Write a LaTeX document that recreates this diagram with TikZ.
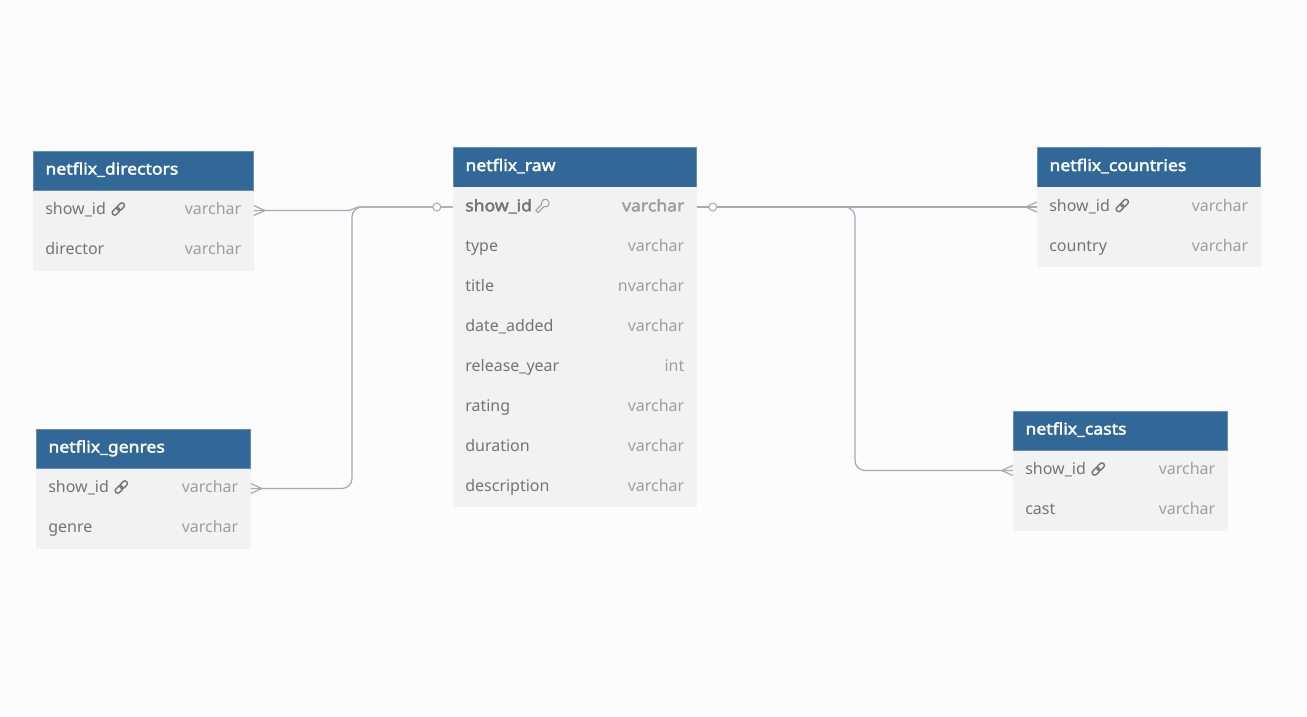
\documentclass[tikz,border=0pt]{standalone}
\usepackage{fontspec}
\setmainfont{Noto Sans}[BoldFont = {Noto Sans}, BoldFeatures = {FakeBold = 2.4, FakeStretch = 1.1}]
\usetikzlibrary{positioning}

\definecolor{pagebg}{HTML}{FCFCFC}
\definecolor{headblue}{HTML}{316897}
\definecolor{rowgrey}{HTML}{F2F2F2}
\definecolor{nametext}{HTML}{747474}
\definecolor{typetext}{HTML}{9E9E9E}
\definecolor{linkgrey}{HTML}{A8A8B2}

\begin{document}
\begin{tikzpicture}[%
        x = 1pt,
        y = -1pt,
        line width = 1.2pt,
        headbox/.style = {
            fill = headblue,
            draw = headblue!75!white,
            line width = 0.4pt,
            text = white,
            font = \fontsize{16}{18}\selectfont\bfseries,
            anchor = north west,
            align = left,
            inner xsep = 12.5pt,
            inner ysep = 0,
            text width = #1 - 25.4pt,
            minimum height = 39.5pt,
            text height = 11.5pt,
            text depth = 4pt,
            outer sep = 0
        },
        rowbox/.style = {
            fill = rowgrey,
            text = nametext,
            font = \fontsize{16}{18}\selectfont,
            below = 0pt of #1,
            inner xsep = 12.5pt,
            inner ysep = 0,
            minimum height = 40pt,
            text height = 12pt,
            text depth = 3.5pt,
            outer sep = 0
        },
        keydot/.style = {
            circle,
            draw = linkgrey,
            fill = pagebg,
            line width = 1pt,
            minimum size = 8pt,
            inner sep = 0,
            outer sep = 0
        },
        linkline/.style = {
            draw = linkgrey,
            rounded corners = 10pt
        },
        fkicon/.pic = {
            \draw[draw = nametext, line width = 1.4pt, rotate = 45, rounded corners = 2.2pt]
                (-7.5, -2.5) rectangle (1, 2.5);
            \draw[draw = nametext, line width = 1.4pt, rotate = 45, rounded corners = 2.2pt]
                (-1, -2.5) rectangle (7.5, 2.5);
        },
        pkicon/.pic = {
            \draw[draw = typetext, line width = 1pt, line join = round, rotate = 45]
                (0, 1.6) -- (-8.5, 1.6) -- (-8.5, -1.6) -- (0, -1.6)
                arc[start angle = -155.4, delta angle = 310.8, radius = 3.85] -- cycle;
        }
    ]

        % Page background fixes the picture size.
        \fill[pagebg] (0, 0) rectangle (1307, 716);

        % Table netflix_directors.
        \node[headbox = 221pt] at (33, 151) (dir_head) {netflix\_directors};
        \node[rowbox = dir_head, text width = 196pt] (dir_id)
            {show\_id\hfill\textcolor{typetext}{varchar}};
        \node[rowbox = dir_id, text width = 196pt] (dir_name)
            {director\hfill\textcolor{typetext}{varchar}};

        % Table netflix_genres.
        \node[headbox = 215pt] at (36, 429) (gen_head) {netflix\_genres};
        \node[rowbox = gen_head, text width = 190pt] (gen_id)
            {show\_id\hfill\textcolor{typetext}{varchar}};
        \node[rowbox = gen_id, text width = 190pt] (gen_name)
            {genre\hfill\textcolor{typetext}{varchar}};

        % Table netflix_raw.
        \node[headbox = 244pt] at (453, 147.5) (raw_head) {netflix\_raw};
        \node[rowbox = raw_head, text width = 219pt] (raw_id)
            {\textcolor{nametext}{\bfseries show\_id}\hfill\textcolor{typetext}{\bfseries varchar}};
        \node[rowbox = raw_id, text width = 219pt] (raw_type)
            {type\hfill\textcolor{typetext}{varchar}};
        \node[rowbox = raw_type, text width = 219pt] (raw_title)
            {title\hfill\textcolor{typetext}{nvarchar}};
        \node[rowbox = raw_title, text width = 219pt] (raw_date)
            {date\_added\hfill\textcolor{typetext}{varchar}};
        \node[rowbox = raw_date, text width = 219pt] (raw_year)
            {release\_year\hfill\textcolor{typetext}{int}};
        \node[rowbox = raw_year, text width = 219pt] (raw_rating)
            {rating\hfill\textcolor{typetext}{varchar}};
        \node[rowbox = raw_rating, text width = 219pt] (raw_duration)
            {duration\hfill\textcolor{typetext}{varchar}};
        \node[rowbox = raw_duration, text width = 219pt] (raw_desc)
            {description\hfill\textcolor{typetext}{varchar}};

        % Table netflix_countries.
        \node[headbox = 224pt] at (1037, 147.5) (cou_head) {netflix\_countries};
        \node[rowbox = cou_head, text width = 199pt] (cou_id)
            {show\_id\hfill\textcolor{typetext}{varchar}};
        \node[rowbox = cou_id, text width = 199pt] (cou_name)
            {country\hfill\textcolor{typetext}{varchar}};

        % Table netflix_casts.
        \node[headbox = 215pt] at (1013, 411) (cas_head) {netflix\_casts};
        \node[rowbox = cas_head, text width = 190pt] (cas_id)
            {show\_id\hfill\textcolor{typetext}{varchar}};
        \node[rowbox = cas_id, text width = 190pt] (cas_name)
            {cast\hfill\textcolor{typetext}{varchar}};

        % Key and link icons.
        \pic at ([xshift = 85.5pt, yshift = 1.5pt]dir_id.west) {fkicon};
        \pic at ([xshift = 85.5pt, yshift = 1.5pt]gen_id.west) {fkicon};
        \pic at ([xshift = 85.5pt, yshift = 1.5pt]cou_id.west) {fkicon};
        \pic at ([xshift = 85.5pt, yshift = 1.5pt]cas_id.west) {fkicon};
        \pic at ([xshift = 90pt, yshift = 1.5pt]raw_id.west) {pkicon};

        % Vertical runs of the connectors.
        \coordinate (bus_left) at (352, 340);
        \coordinate (bus_right) at (855, 340);

        % Connectors on the left of netflix_raw.
        \draw[linkline] (gen_id.east) -| (bus_left) |- (raw_id.west);
        \draw[draw = linkgrey] (dir_id.east)
            -- ([xshift = -3pt]bus_left |- dir_id.east)
            to [out = 0, in = 180] ([xshift = 6pt]bus_left |- raw_id.west)
            -- (raw_id.west);

        % Connectors on the right of netflix_raw.
        \draw[linkline] (raw_id.east) -- (cou_id.west);
        \draw[linkline] (raw_id.east) -| (bus_right) |- (cas_id.west);

        % Crow's feet at the many ends.
        \draw[draw = linkgrey] ([yshift = 5pt]dir_id.east)
            -- ([xshift = 11pt]dir_id.east) -- ([yshift = -5pt]dir_id.east);
        \draw[draw = linkgrey] ([yshift = 5pt]gen_id.east)
            -- ([xshift = 11pt]gen_id.east) -- ([yshift = -5pt]gen_id.east);
        \draw[draw = linkgrey] ([yshift = 5pt]cou_id.west)
            -- ([xshift = -11pt]cou_id.west) -- ([yshift = -5pt]cou_id.west);
        \draw[draw = linkgrey] ([yshift = 5pt]cas_id.west)
            -- ([xshift = -11pt]cas_id.west) -- ([yshift = -5pt]cas_id.west);

        % Circles at the one ends.
        \node[keydot, left = 12pt of raw_id.west] (dot_left) {};
        \node[keydot, right = 12pt of raw_id.east] (dot_right) {};
    \end{tikzpicture}
\end{document}
